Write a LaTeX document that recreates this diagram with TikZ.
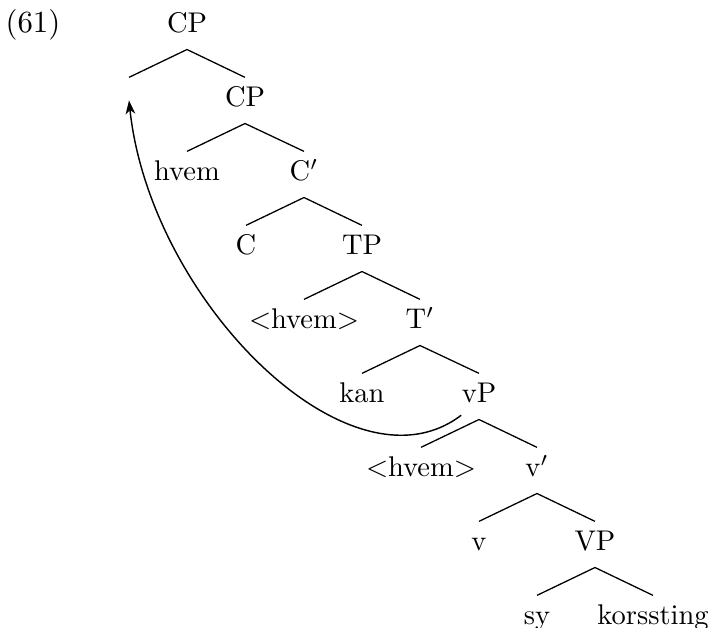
\documentclass[tikz,border=0pt]{standalone}
\usetikzlibrary{arrows.meta}
\begin{document}
\begin{tikzpicture}[x=0.351pt,y=-0.351pt,
  lab/.style={anchor=base,inner sep=0pt,text height=10.2pt,text depth=5.6pt},
  edge/.style={line width=0.45pt},
  mv/.style={line width=0.5pt,-{Stealth[length=4.8pt,width=3.4pt,inset=1.4pt]}}]
\useasboundingbox (0,0) rectangle (712,628);
\node[anchor=base,inner sep=0pt,scale=1.08] (ex) at (33,33) {(61)};
\node[lab] (cp0) at (187,33) {CP};
\node[lab] (e) at (129,107) {};
\node[lab] (cp1) at (245,107) {CP};
\node[lab] (hv1) at (187,181) {hvem};
\node[lab] (cbar) at (304,181) {C$'$};
\node[lab] (c) at (246,255) {C};
\node[lab] (tp) at (362,255) {TP};
\node[lab] (hv2) at (304,329) {$<$hvem$>$};
\node[lab] (tbar) at (420,329) {T$'$};
\node[lab] (kan) at (362,403) {kan};
\node[lab] (vp) at (479,403) {vP};
\node[lab] (hv3) at (421,477) {$<$hvem$>$};
\node[lab] (vbar) at (537,477) {v$'$};
\node[lab] (v) at (479,551) {v};
\node[lab] (VP) at (595,551) {VP};
\node[lab] (sy) at (537,625) {sy};
\node[lab] (kor) at (653,625) {korssting};
\foreach \p/\l/\r in {cp0/e/cp1, cp1/hv1/cbar, cbar/c/tp, tp/hv2/tbar, tbar/kan/vp, vp/hv3/vbar, vbar/v/VP, VP/sy/kor}{
  \draw[edge] (\p.south) -- (\l.north);
  \draw[edge] (\p.south) -- (\r.north);
}
\draw[mv] ([yshift=1.5pt]vp.south west) .. controls (350,500) and (150,300) .. (e.center);
\end{tikzpicture}
\end{document}
